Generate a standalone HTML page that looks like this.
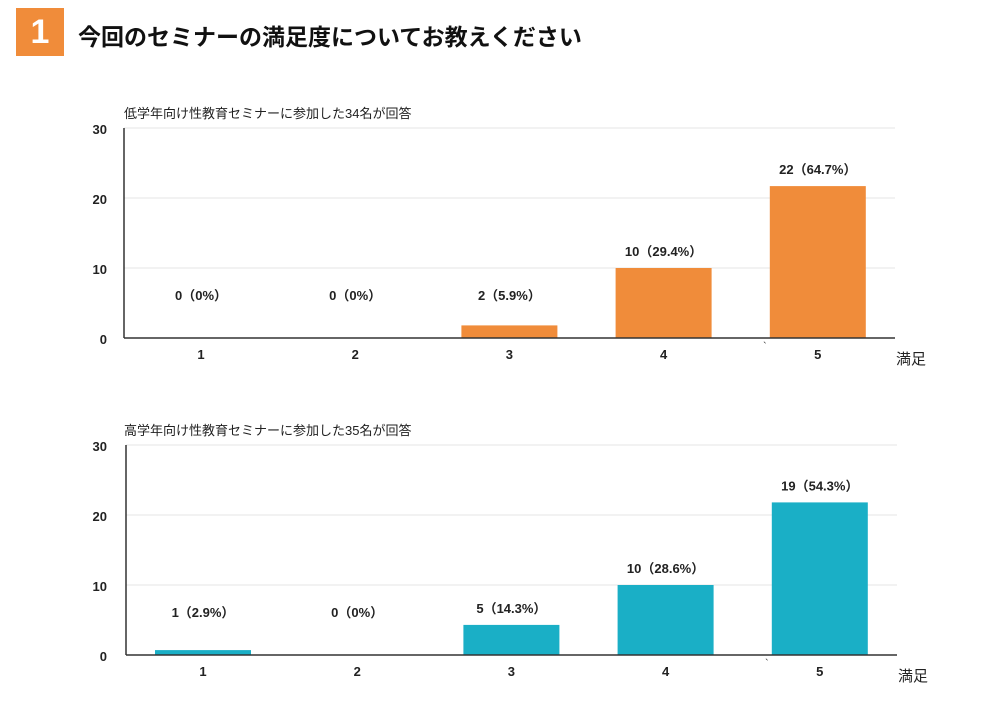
<!DOCTYPE html>
<html><head><meta charset="utf-8">
<style>
body{margin:0;background:#fff;width:1000px;height:706px;overflow:hidden;font-family:"Liberation Sans","Noto Sans CJK JP",sans-serif;}
#badge{position:absolute;left:16px;top:8px;width:48px;height:48px;background:#f08c3a;color:#fff;font-weight:bold;font-size:34px;text-align:center;line-height:48px;}
#title{position:absolute;left:78px;top:18px;font-size:23px;font-weight:bold;color:#111;white-space:nowrap;}
svg{position:absolute;left:0;top:0;}
</style></head><body>
<div id="badge">1</div>
<div id="title">今回のセミナーの満足度についてお教えください</div>
<svg id="chart" width="1000" height="706"></svg>
<script>
const categories=["1","2","3","4","5"];
const yTicks=[0,10,20,30];
const lowValues=[0,0,1.8,10,21.7];
const lowLabels=["0（0%）","0（0%）","2（5.9%）","10（29.4%）","22（64.7%）"];
const highValues=[0.7,0,4.3,10,21.8];
const highLabels=["1（2.9%）","0（0%）","5（14.3%）","10（28.6%）","19（54.3%）"];
const NS="http://www.w3.org/2000/svg";
const svg=document.getElementById('chart');
function el(t,a,txt){const e=document.createElementNS(NS,t);for(const k in a)e.setAttribute(k,a[k]);if(txt!==undefined)e.textContent=txt;svg.appendChild(e);return e;}
function drawChart(cfg){
  const y=v=>cfg.zero-v*7;
  const x=i=>cfg.x0+77+i*154.2;
  const st=el('text',{x:124,y:cfg.zero-220,'font-size':13,fill:'#222'},cfg.subtitle);
  
  
  yTicks.forEach(t=>{
    if(t>0){const g=el('line',{x1:cfg.x0,x2:cfg.x1,y1:y(t),y2:y(t),stroke:'#e6e6e6','stroke-width':1});
    
    }
    const tl=el('text',{x:107,y:y(t)+6,'text-anchor':'end','font-size':13,'font-weight':'bold',fill:'#222'},t);
    
    
  });
  const ya=el('line',{x1:cfg.x0,x2:cfg.x0,y1:y(30),y2:cfg.zero,stroke:'#333','stroke-width':1.5});
  
  
  cfg.values.forEach((v,i)=>{
    const b=el('rect',{x:x(i)-48,y:y(v),width:96,height:cfg.zero-y(v),fill:cfg.color});
    
    
    const ly=Math.min(y(v)-12,cfg.zero-38);
    const l=el('text',{x:x(i),y:ly,'text-anchor':'middle','font-size':13,'font-weight':'bold',fill:'#222'},cfg.labels[i]);
    
    
    const c=el('text',{x:x(i),y:cfg.zero+21,'text-anchor':'middle','font-size':13,'font-weight':'bold',fill:'#222'},categories[i]);
    
    
  });
  const xa=el('line',{x1:cfg.x0,x2:cfg.x1,y1:cfg.zero,y2:cfg.zero,stroke:'#333','stroke-width':1.5});
  
  
  const m=el('text',{x:cfg.x0+639,y:cfg.zero+12,'font-size':11,fill:'#333'},'`');
  
  
  const xt=el('text',{x:cfg.x1+1,y:cfg.zero+26,'font-size':15,fill:'#222'},'満足');
  
  
}
drawChart({name:'lower-grade-chart',subtitle:'低学年向け性教育セミナーに参加した34名が回答',zero:338,x0:124,x1:895,values:lowValues,labels:lowLabels,color:'#f08c3a'});
drawChart({name:'upper-grade-chart',subtitle:'高学年向け性教育セミナーに参加した35名が回答',zero:655,x0:126,x1:897,values:highValues,labels:highLabels,color:'#1aafc6'});
</script>
</body></html>
